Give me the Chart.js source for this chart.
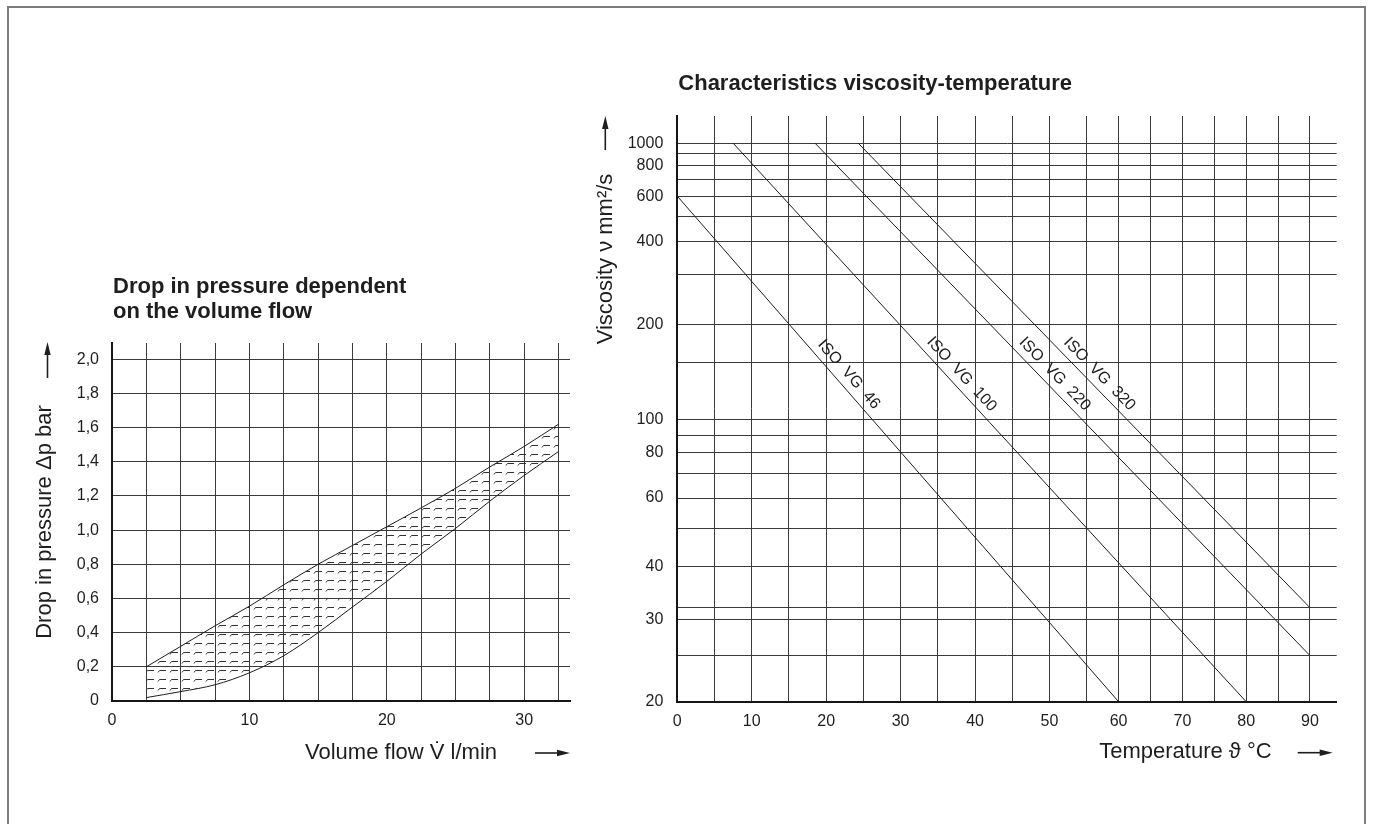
<!DOCTYPE html>
<html>
<head>
<meta charset="utf-8">
<script src="https://cdn.jsdelivr.net/npm/chart.js@4.4.1/dist/chart.umd.min.js"></script>
<style>
  html, body { margin: 0; padding: 0; background: #fff; }
  #page { position: relative; width: 1373px; height: 824px; overflow: hidden; background: #fff; }
  #frame { position: absolute; left: 7px; top: 6px; width: 1359px; height: 860px;
           border: 2px solid #7c7c7c; box-sizing: border-box; }
  canvas { position: absolute; left: 0; top: 0; }
</style>
</head>
<body>
<div id="page">
  <div id="frame"></div>
  <canvas id="dropChart" width="1373" height="824"></canvas>
  <canvas id="viscChart" width="1373" height="824"></canvas>
</div>
<script>
// ---- Pressure drop vs. volume flow (l/min, bar) ----
const flowTicks   = [0, 2.5, 5, 7.5, 10, 12.5, 15, 17.5, 20, 22.5, 25, 27.5, 30, 32.5];
const flowLabels  = [0, 10, 20, 30];
const flowPoints  = [2.5, 5, 7.5, 10, 12.5, 15, 17.5, 20, 22.5, 25, 27.5, 30, 32.5];
const dropUpper   = [0.20, 0.32, 0.44, 0.555, 0.68, 0.80, 0.91, 1.02, 1.13, 1.245, 1.37, 1.49, 1.62];
const dropLower   = [0.02, 0.055, 0.095, 0.165, 0.265, 0.40, 0.55, 0.70, 0.86, 1.01, 1.17, 1.32, 1.46];
const dropTicks   = [0, 0.2, 0.4, 0.6, 0.8, 1.0, 1.2, 1.4, 1.6, 1.8, 2.0];

// ---- Viscosity vs. temperature (°C, mm²/s) ----
const oilGrades      = ['ISO VG 46', 'ISO VG 100', 'ISO VG 220', 'ISO VG 320'];
const gradeStartTemp = [0, 7.5, 18.5, 24.3];
const gradeStartVisc = [600, 1000, 1000, 1000];
const gradeEndTemp   = [60, 80, 90, 90];
const gradeEndVisc   = [20, 20, 25, 32];
const tempTicks      = [0, 5, 10, 15, 20, 25, 30, 35, 40, 45, 50, 55, 60, 65, 70, 75, 80, 85, 90];
const tempLabels     = [0, 10, 20, 30, 40, 50, 60, 70, 80, 90];
const viscTicks      = [20, 25, 30, 32, 40, 50, 60, 70, 80, 90, 100, 150, 200, 300, 400, 500, 600, 700, 800, 900, 1000];
const viscLabels     = [20, 30, 40, 60, 80, 100, 200, 400, 600, 800, 1000];

const FONT = "'Liberation Sans', Arial, Helvetica, sans-serif";
const INK = '#1e1e1e';
const GRID = '#3a3a3a';

// Temperature axis: printed grid is uniform up to 55 °C, then slightly tighter.
class SegmentedScale extends Chart.LinearScale {
  static id = 'segmented';
  static defaults = {};
  static stops = [[0, 0], [55, 0.6209], [94.2, 1]];
  _frac(v) {
    const s = SegmentedScale.stops;
    for (let i = 1; i < s.length; i++) {
      if (v <= s[i][0] || i === s.length - 1) {
        const [v0, f0] = s[i - 1], [v1, f1] = s[i];
        return f0 + (v - v0) / (v1 - v0) * (f1 - f0);
      }
    }
    return 0;
  }
  getPixelForValue(v) {
    return v == null ? NaN : this.getPixelForDecimal(this._frac(v));
  }
  getValueForPixel(p) {
    const f = this.getDecimalForPixel(p);
    const s = SegmentedScale.stops;
    for (let i = 1; i < s.length; i++) {
      if (f <= s[i][1] || i === s.length - 1) {
        const [v0, f0] = s[i - 1], [v1, f1] = s[i];
        return v0 + (f - f0) / (f1 - f0) * (v1 - v0);
      }
    }
    return 0;
  }
}

// Viscosity axis: double-logarithmic (Ubbelohde-Walther style) spacing.
class ViscosityScale extends Chart.LinearScale {
  static id = 'viscosity';
  static defaults = {};
  _w(v) { return Math.log10(Math.log10(v) + 0.2); }
  getPixelForValue(v) {
    if (v == null) return NaN;
    const a = this._w(this.min), b = this._w(this.max);
    return this.getPixelForDecimal((this._w(v) - a) / (b - a));
  }
  getValueForPixel(p) {
    const a = this._w(this.min), b = this._w(this.max);
    const w = a + this.getDecimalForPixel(p) * (b - a);
    return Math.pow(10, Math.pow(10, w) - 0.2);
  }
}
Chart.register(SegmentedScale, ViscosityScale);

// short dash hatching for the tolerance band
function makeHatch() {
  const c = document.createElement('canvas');
  c.width = 12; c.height = 9;
  const g = c.getContext('2d');
  g.strokeStyle = '#333';
  g.lineWidth = 1;
  g.beginPath();
  g.moveTo(2, 6.5); g.lineTo(3.5, 4.5); g.lineTo(10, 4.5);
  g.stroke();
  return g.createPattern(c, 'repeat');
}

function drawArrow(ctx, x0, y0, x1, y1) {
  const ang = Math.atan2(y1 - y0, x1 - x0);
  const head = 13, half = 3.2;
  ctx.save();
  ctx.strokeStyle = INK; ctx.fillStyle = INK; ctx.lineWidth = 1.6;
  ctx.beginPath();
  ctx.moveTo(x0, y0);
  ctx.lineTo(x1 - Math.cos(ang) * head * 0.6, y1 - Math.sin(ang) * head * 0.6);
  ctx.stroke();
  ctx.beginPath();
  ctx.moveTo(x1, y1);
  ctx.lineTo(x1 - Math.cos(ang) * head - Math.sin(ang) * half, y1 - Math.sin(ang) * head + Math.cos(ang) * half);
  ctx.lineTo(x1 - Math.cos(ang) * head + Math.sin(ang) * half, y1 - Math.sin(ang) * head - Math.cos(ang) * half);
  ctx.closePath();
  ctx.fill();
  ctx.restore();
}

function gridAxis(extra) {
  return Object.assign({
    grid: { color: GRID, lineWidth: 1, drawTicks: false },
    border: { display: true, color: '#161616', width: 2 },
  }, extra);
}

const dropDecor = {
  id: 'dropDecor',
  afterDraw(chart) {
    const ctx = chart.ctx;
    const { left, top, right, bottom } = chart.chartArea;
    ctx.save();
    ctx.fillStyle = INK;
    ctx.font = 'bold 22px ' + FONT;
    ctx.textAlign = 'left';
    ctx.textBaseline = 'alphabetic';
    ctx.fillText('Drop in pressure dependent', left + 1, top - 50);
    ctx.fillText('on the volume flow', left + 1, top - 25);

    ctx.font = '22px ' + FONT;
    ctx.textAlign = 'right';
    ctx.fillText('Volume flow V\u0307 l/min', right - 73, bottom + 58);

    ctx.save();
    ctx.translate(left - 67, (top + bottom) / 2);
    ctx.rotate(-Math.PI / 2);
    ctx.textAlign = 'center';
    ctx.textBaseline = 'middle';
    ctx.fillText('Drop in pressure \u0394p bar', 0, 0);
    ctx.restore();
    ctx.restore();

    drawArrow(ctx, right - 35, bottom + 52, right, bottom + 52);
    drawArrow(ctx, left - 64.5, top + 35, left - 64.5, top - 1);
  }
};

const viscDecor = {
  id: 'viscDecor',
  afterDatasetsDraw(chart) {
    const ctx = chart.ctx;
    const xs = chart.scales.x, ys = chart.scales.y;
    ctx.save();
    ctx.fillStyle = INK;
    ctx.font = '16px ' + FONT;
    ctx.textAlign = 'center';
    ctx.textBaseline = 'middle';
    const labelY = ys.getPixelForValue(130);
    oilGrades.forEach((name, i) => {
      const x0 = xs.getPixelForValue(gradeStartTemp[i]), y0 = ys.getPixelForValue(gradeStartVisc[i]);
      const x1 = xs.getPixelForValue(gradeEndTemp[i]), y1 = ys.getPixelForValue(gradeEndVisc[i]);
      const ang = Math.atan2(y1 - y0, x1 - x0);
      const t = (labelY - y0) / (y1 - y0);
      const px = x0 + t * (x1 - x0) + Math.sin(ang) * 12;
      const py = labelY - Math.cos(ang) * 12;
      ctx.save();
      ctx.translate(px, py);
      ctx.rotate(ang);
      ctx.fillText(name.replace(/ /g, '  '), 0, 0);
      ctx.restore();
    });
    ctx.restore();
  },
  afterDraw(chart) {
    const ctx = chart.ctx;
    const { left, top, right, bottom } = chart.chartArea;
    ctx.save();
    ctx.fillStyle = INK;
    ctx.font = 'bold 22px ' + FONT;
    ctx.textAlign = 'left';
    ctx.textBaseline = 'alphabetic';
    ctx.fillText('Characteristics viscosity-temperature', left + 1, top - 26);

    ctx.font = '22px ' + FONT;
    ctx.textAlign = 'right';
    ctx.fillText('Temperature \u03D1 \u00B0C', right - 65, bottom + 56);

    ctx.save();
    ctx.translate(left - 71, top + 143);
    ctx.rotate(-Math.PI / 2);
    ctx.textAlign = 'center';
    ctx.textBaseline = 'middle';
    ctx.fillText('Viscosity \u03BD mm\u00B2/s', 0, 0);
    ctx.restore();
    ctx.restore();

    drawArrow(ctx, right - 39, bottom + 51, right - 4, bottom + 51);
    drawArrow(ctx, left - 72, top + 34, left - 72, top);
  }
};

const tickFont = { family: FONT, size: 16 };

new Chart(document.getElementById('dropChart'), {
  type: 'line',
  data: {
    datasets: [
      {
        data: flowPoints.map((x, i) => ({ x, y: dropUpper[i] })),
        borderColor: INK, borderWidth: 1, pointRadius: 0,
        cubicInterpolationMode: 'monotone',
        fill: '+1', backgroundColor: makeHatch()
      },
      {
        data: flowPoints.map((x, i) => ({ x, y: dropLower[i] })),
        borderColor: INK, borderWidth: 1, pointRadius: 0,
        cubicInterpolationMode: 'monotone', fill: false
      }
    ]
  },
  options: {
    responsive: false, animation: false, events: [],
    layout: { padding: { left: 52, top: 343, right: 803, bottom: 83 } },
    plugins: { legend: { display: false }, tooltip: { enabled: false } },
    scales: {
      x: gridAxis({
        type: 'linear', min: 0, max: 33.33,
        afterBuildTicks: s => { s.ticks = flowTicks.map(v => ({ value: v })); },
        afterFit: s => { s.height = 40; },
        ticks: { autoSkip: false, maxRotation: 0, padding: 10, color: INK, font: tickFont,
                 callback: v => flowLabels.includes(v) ? String(v) : '' }
      }),
      y: gridAxis({
        type: 'linear', min: 0, max: 2.095,
        afterBuildTicks: s => { s.ticks = dropTicks.map(v => ({ value: v })); },
        afterFit: s => { s.width = 60; },
        ticks: { autoSkip: false, padding: 13, color: INK, font: tickFont,
                 callback: v => v === 0 ? '0' : v.toFixed(1).replace('.', ',') }
      })
    }
  },
  plugins: [dropDecor]
});

new Chart(document.getElementById('viscChart'), {
  type: 'line',
  data: {
    datasets: oilGrades.map((name, i) => ({
      label: name,
      data: [{ x: gradeStartTemp[i], y: gradeStartVisc[i] }, { x: gradeEndTemp[i], y: gradeEndVisc[i] }],
      borderColor: INK, borderWidth: 1, pointRadius: 0, fill: false
    }))
  },
  options: {
    responsive: false, animation: false, events: [],
    layout: { padding: { left: 617.3, top: 116, right: 36.3, bottom: 82.3 } },
    plugins: { legend: { display: false }, tooltip: { enabled: false } },
    scales: {
      x: gridAxis({
        type: 'segmented', min: 0, max: 94.2,
        afterBuildTicks: s => { s.ticks = tempTicks.map(v => ({ value: v })); },
        afterFit: s => { s.height = 40; },
        ticks: { autoSkip: false, maxRotation: 0, padding: 10, color: INK, font: tickFont,
                 callback: v => tempLabels.includes(v) ? String(v) : '' }
      }),
      y: gridAxis({
        type: 'viscosity', min: 20, max: 1318,
        afterBuildTicks: s => { s.ticks = viscTicks.map(v => ({ value: v })); },
        afterFit: s => { s.width = 60; },
        ticks: { autoSkip: false, padding: 14, color: INK, font: tickFont,
                 callback: v => viscLabels.includes(v) ? String(v) : '' }
      })
    }
  },
  plugins: [viscDecor]
});
</script>
</body>
</html>
